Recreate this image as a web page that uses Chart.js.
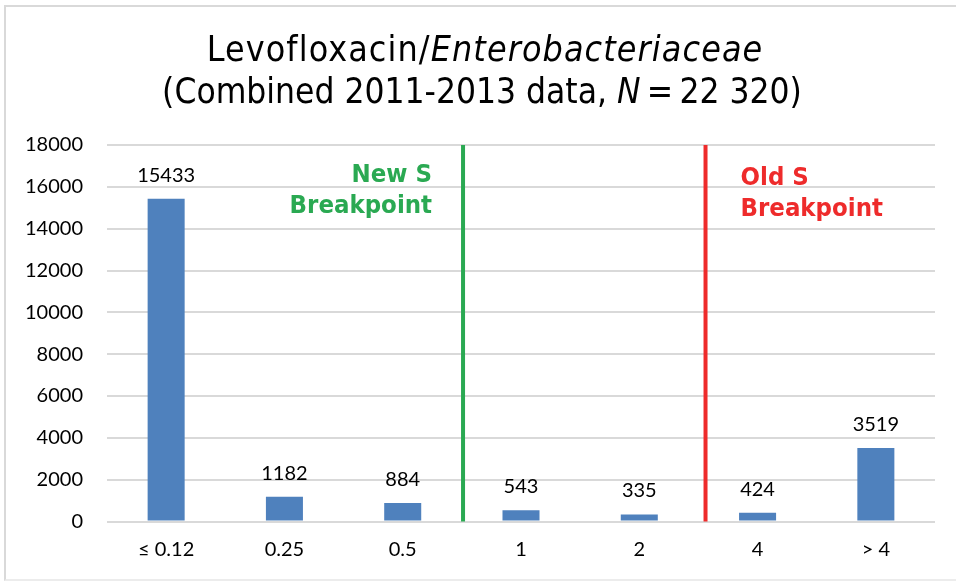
<!DOCTYPE html>
<html>
<head>
<meta charset="utf-8">
<script src="https://cdn.jsdelivr.net/npm/chart.js@4"></script>
<style>
  html, body { margin: 0; padding: 0; background: #fff; }
  #wrap { position: relative; width: 956px; height: 581px; overflow: hidden; }
  #frame { position: absolute; left: 4px; top: 5px; width: 1000px; height: 572px;
           border-left: 2px solid #d9d9d9; border-top: 2px solid #d9d9d9; border-bottom: 2px solid #ececec; }
  #c { position: absolute; left: 0; top: 0; }
</style>
</head>
<body>
<div id="wrap">
  <div id="frame"></div>
  <canvas id="c" width="956" height="581"></canvas>
</div>
<script>
// ---- data ----
const categories = ['≤ 0.12', '0.25', '0.5', '1', '2', '4', '> 4'];
const counts = [15433, 1182, 884, 543, 335, 424, 3519];
const yMin = 0;
const yMax = 18000;
const yStep = 2000;
const titleLine1 = [['Levofloxacin/', false], ['Enterobacteriaceae', true]];
const titleLine2 = [['(Combined 2011-2013 data, ', false], ['N', true], ['\u2009=\u200922 320)', false]];
const breakpointNames = [['New S', 'Breakpoint'], ['Old S', 'Breakpoint']];
const breakpointPositions = [2.51, 4.56];
const breakpointColors = ['#2aa952', '#ee2b2b'];

const TITLE_FONT = '"DejaVu Sans", sans-serif';
const LABEL_FONT = 'Lato, "Open Sans", sans-serif';

function setFont(ctx, spec, spacing) {
  ctx.font = spec;
  try { ctx.fontStretch = 'condensed'; } catch (e) {}
  try { ctx.letterSpacing = spacing || '0px'; } catch (e) {}
}

function drawMixed(ctx, parts, cx, baseline, size, spacing) {
  let total = 0;
  const widths = parts.map(([t, it]) => {
    setFont(ctx, (it ? 'italic ' : '') + size + 'px ' + TITLE_FONT, spacing);
    const w = ctx.measureText(t).width; total += w; return w;
  });
  let x = cx - total / 2;
  ctx.textAlign = 'left';
  ctx.textBaseline = 'alphabetic';
  parts.forEach(([t, it], i) => {
    setFont(ctx, (it ? 'italic ' : '') + size + 'px ' + TITLE_FONT, spacing);
    ctx.fillText(t, x, baseline);
    x += widths[i];
  });
  try { ctx.letterSpacing = '0px'; } catch (e) {}
}

const overlay = {
  id: 'overlay',
  afterDatasetsDraw(chart) {
    const ctx = chart.ctx;
    const xs = chart.scales.x;
    const area = chart.chartArea;
    ctx.save();
    // title
    ctx.fillStyle = '#000';
    drawMixed(ctx, titleLine1, 485, 61, 35.5, '1.1px');
    drawMixed(ctx, titleLine2, 482, 103, 35, '0px');

    // value labels
    ctx.font = '20px ' + LABEL_FONT;
    try { ctx.fontStretch = 'normal'; } catch (e) {}
    ctx.textAlign = 'center';
    ctx.textBaseline = 'alphabetic';
    const meta = chart.getDatasetMeta(0);
    meta.data.forEach((bar, i) => {
      ctx.fillText(String(counts[i]), bar.x, bar.y - 17);
    });

    // breakpoint lines and labels
    breakpointPositions.forEach((pos, i) => {
      const x = xs.getPixelForValue(pos);
      ctx.strokeStyle = breakpointColors[i];
      ctx.lineWidth = 4;
      ctx.beginPath();
      ctx.moveTo(x, area.top);
      ctx.lineTo(x, area.bottom);
      ctx.stroke();
      ctx.fillStyle = breakpointColors[i];
      setFont(ctx, 'bold 25.5px ' + TITLE_FONT);
      if (i === 0) {
        ctx.textAlign = 'right';
        ctx.fillText(breakpointNames[i][0], x - 31, 182);
        ctx.fillText(breakpointNames[i][1], x - 31, 213);
      } else {
        ctx.textAlign = 'left';
        ctx.fillText(breakpointNames[i][0], x + 35, 185);
        ctx.fillText(breakpointNames[i][1], x + 35, 216);
      }
    });
    ctx.restore();
  }
};

new Chart(document.getElementById('c'), {
  type: 'bar',
  data: {
    labels: categories,
    datasets: [{
      data: counts,
      backgroundColor: '#4f81bd',
      borderWidth: 0,
      barPercentage: 0.313,
      categoryPercentage: 1.0
    }]
  },
  options: {
    responsive: false,
    animation: false,
    devicePixelRatio: 1,
    layout: { padding: { top: 145, right: 21, bottom: 0, left: 0 } },
    plugins: { legend: { display: false }, title: { display: false }, tooltip: { enabled: false } },
    scales: {
      x: {
        grid: { display: false, drawTicks: false },
        border: { display: false },
        ticks: { color: '#000', font: { family: LABEL_FONT, size: 20 }, padding: 16, maxRotation: 0 },
        afterFit(s) { s.height = 59.5; }
      },
      y: {
        min: yMin, max: yMax,
        grid: { color: '#d9d9d9', lineWidth: 2, drawTicks: false },
        border: { display: false },
        ticks: {
          stepSize: yStep, color: '#000', font: { family: LABEL_FONT, size: 20 }, padding: 24,
          callback: (v) => String(v)
        },
        afterFit(s) { s.width = 107; }
      }
    }
  },
  plugins: [overlay]
});
</script>
</body>
</html>
